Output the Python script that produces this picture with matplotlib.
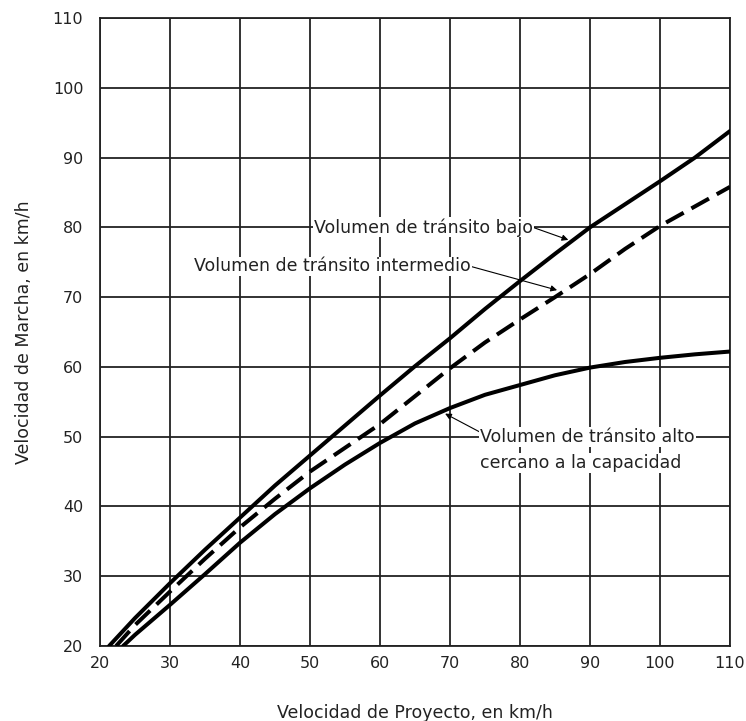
import matplotlib
matplotlib.use("Agg")
import matplotlib.pyplot as plt

# Data
x_bajo = [21.3, 25, 30, 35, 40, 45, 50, 55, 60, 65, 70, 75, 80, 85, 90, 95, 100, 105, 110]
y_bajo = [20, 24.0, 29.0, 33.8, 38.4, 43.0, 47.3, 51.6, 55.9, 60.1, 64.1, 68.3, 72.3, 76.2, 80.0, 83.3, 86.6, 90.0, 93.8]

x_inter = [22.3, 25, 30, 35, 40, 45, 50, 55, 60, 65, 70, 75, 80, 85, 90, 95, 100, 105, 110]
y_inter = [20, 23.0, 27.8, 32.5, 37.0, 41.1, 45.0, 48.4, 51.8, 55.8, 59.8, 63.5, 66.8, 70.0, 73.3, 76.9, 80.2, 83.0, 85.8]

x_alto = [23.3, 25, 30, 35, 40, 45, 50, 55, 60, 65, 70, 75, 80, 85, 90, 95, 100, 105, 110]
y_alto = [20, 21.6, 25.9, 30.3, 34.8, 38.9, 42.6, 46.0, 49.1, 51.9, 54.1, 56.0, 57.4, 58.8, 59.9, 60.7, 61.3, 61.8, 62.2]

x_ticks = [20, 30, 40, 50, 60, 70, 80, 90, 100, 110]
y_ticks = [20, 30, 40, 50, 60, 70, 80, 90, 100, 110]

label_bajo = "Volumen de tránsito bajo"
label_inter = "Volumen de tránsito intermedio"
label_alto_1 = "Volumen de tránsito alto"
label_alto_2 = "cercano a la capacidad"

xlabel = "Velocidad de Proyecto, en km/h"
ylabel = "Velocidad de Marcha, en km/h"

plt.rcParams['font.family'] = ['DejaVu Sans']
fig = plt.figure(figsize=(7.46, 7.21), dpi=100)
ax = fig.add_axes([100/746, 75/721, 630/746, 628/721])

ax.set_xlim(20, 110)
ax.set_ylim(20, 110)
ax.set_xticks(x_ticks)
ax.set_yticks(y_ticks)
ax.grid(True, color='#222222', lw=1.3)
ax.set_axisbelow(True)
for s in ax.spines.values():
    s.set_color('#222222')
    s.set_linewidth(1.3)
ax.tick_params(length=0, labelsize=11.5, colors='#222222', pad=12)
ax.tick_params(axis='x', pad=7)

lw = 2.9
ax.plot(x_bajo, y_bajo, color='black', lw=lw, solid_capstyle='round', zorder=3)
ax.plot(x_inter, y_inter, color='black', lw=lw, dashes=(5, 2.2), zorder=3)
ax.plot(x_alto, y_alto, color='black', lw=lw, solid_capstyle='round', zorder=3)

bbox = dict(boxstyle='square,pad=0.05', fc='white', ec='none')
fs = 12.5
ap = dict(arrowstyle='-|>', color='black', lw=0.8, mutation_scale=9, shrinkA=0, shrinkB=0)

ap1 = dict(ap, relpos=(1, 0.5))
ax.annotate(label_bajo, xy=(86.9, 78.2), xytext=(66.2, 80.0), ha='center', va='center',
            fontsize=fs, color='#222222', bbox=bbox, arrowprops=ap1, zorder=4)
ap2 = dict(ap, relpos=(1, 0.5))
ax.annotate(label_inter, xy=(85.3, 71.0), xytext=(53.2, 74.4), ha='center', va='center',
            fontsize=fs, color='#222222', bbox=bbox, arrowprops=ap2, zorder=4)
ap3 = dict(ap, relpos=(0, 0.75))
ax.annotate(label_alto_1, xy=(69.3, 53.3), xytext=(74.3, 50.0), ha='left', va='center',
            fontsize=fs, color='#222222', bbox=bbox, arrowprops=ap3, zorder=4)
ax.text(74.3, 46.2, label_alto_2, ha='left', va='center', fontsize=fs, color='#222222',
        bbox=bbox, zorder=4)

ax.set_xlabel(xlabel, fontsize=12.5, color='#222222', labelpad=24)
ax.set_ylabel(ylabel, fontsize=12.5, color='#222222', labelpad=14)

fig.savefig('out.png', dpi=100)
